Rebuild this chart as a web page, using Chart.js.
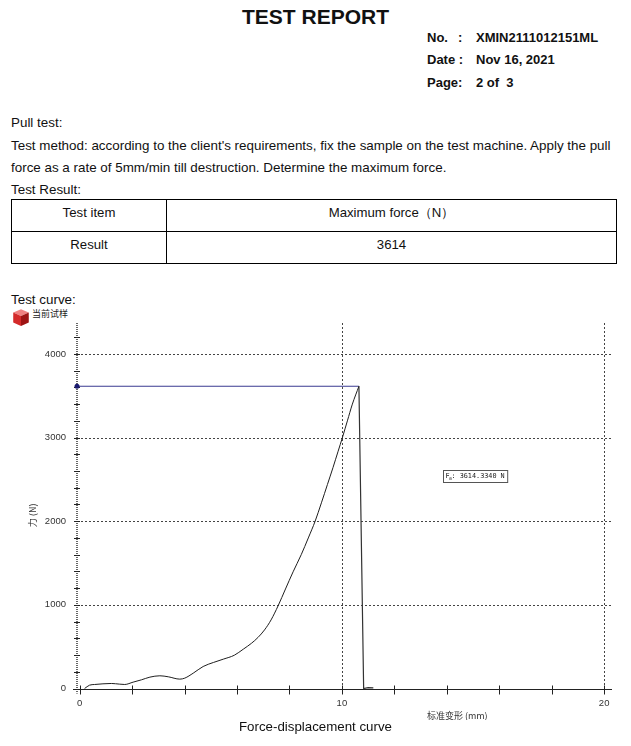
<!DOCTYPE html>
<html>
<head>
<meta charset="utf-8">
<script src="https://cdn.jsdelivr.net/npm/chart.js@4.4.0/dist/chart.umd.min.js"></script>
<style>
  body { margin: 0; background: #fff; font-family: "Liberation Sans", Arial, sans-serif; color: #111; }
  .page { position: relative; width: 631px; height: 746px; overflow: hidden; }
  .abs { position: absolute; white-space: nowrap; line-height: 16px; }
  .title { left: 0; width: 631px; text-align: center; top: 5px; font-size: 21px; font-weight: bold; line-height: 24px; }
  .hdr { font-size: 13px; font-weight: bold; }
  .txt { font-size: 13.4px; left: 11px; }
  table { position: absolute; left: 11px; top: 199px; width: 606px; border-collapse: collapse; font-size: 13.2px; }
  td { border: 1.3px solid #000; text-align: center; height: 26px; padding: 0 0 5px 0; line-height: 16px; }
  #chartBox { position: absolute; left: 0; top: 318px; width: 631px; height: 402px; }
  .cn { font-family: "Noto Sans CJK SC", sans-serif; font-size: 9px; color: #222; }
</style>
</head>
<body>
<div class="page">
  <div class="abs title">TEST REPORT</div>
  <div class="abs hdr" style="left:427px;top:30px">No.</div>
  <div class="abs hdr" style="left:458px;top:30px">:</div>
  <div class="abs hdr" style="left:476px;top:30px">XMIN2111012151ML</div>
  <div class="abs hdr" style="left:427px;top:52px">Date :</div>
  <div class="abs hdr" style="left:476px;top:52px">Nov 16, 2021</div>
  <div class="abs hdr" style="left:427px;top:75px">Page:</div>
  <div class="abs hdr" style="left:476px;top:75px">2 of&nbsp; 3</div>

  <div class="abs txt" style="top:115px">Pull test:</div>
  <div class="abs txt" style="top:138px">Test method: according to the client's requirements, fix the sample on the test machine. Apply the pull</div>
  <div class="abs txt" style="top:160px">force as a rate of 5mm/min till destruction. Determine the maximum force.</div>
  <div class="abs txt" style="top:182px">Test Result:</div>

  <table>
    <tr><td style="width:154px">Test item</td><td>Maximum force（N）</td></tr>
    <tr><td>Result</td><td>3614</td></tr>
  </table>

  <div class="abs txt" style="top:292px">Test curve:</div>
  <svg class="abs" style="left:11px;top:307px" width="20" height="20" viewBox="0 0 18 18">
    <polygon points="2,5 9,2 16,5 9,8" fill="#f08080"/>
    <polygon points="2,5 9,8 9,17 2,14" fill="#d42a2a"/>
    <polygon points="9,8 16,5 16,14 9,17" fill="#9e1414"/>
  </svg>
  <div class="abs cn" style="left:32px;top:306px">当前试样</div>

  <div id="chartBox"><canvas id="curve"></canvas></div>

  <div class="abs" style="left:0;width:631px;text-align:center;top:719px;font-size:13.3px">Force-displacement curve</div>
</div>

<script>
// Force-displacement data
const disp = [0.19, 0.38, 0.57, 0.89, 1.21, 1.53, 1.72, 2.04, 2.36, 2.68, 3.06, 3.38, 3.82, 4.01, 4.33, 4.71,
  5.10, 5.48, 5.90, 6.24, 6.55, 6.80, 7.05, 7.30, 7.57, 7.85, 8.14, 8.45, 8.72, 8.98, 9.22, 9.45, 9.66,
  9.85, 10.03, 10.21, 10.40, 10.65];
const force = [0, 40, 48, 56, 60, 52, 48, 76, 104, 136, 152, 140, 112, 124, 183, 263,
  311, 351, 398, 470, 540, 610, 700, 820, 990, 1190, 1395, 1600, 1800, 2000, 2220, 2440, 2640,
  2830, 3010, 3200, 3400, 3614];

// after break: drop to zero and small residue
const dropDisp = [10.65, 10.83, 11.0, 11.2];
const dropForce = [3614, 0, 10, 8];

// max force marker line
const peakLineX = [-0.1, 10.65];
const peakLineY = [3614, 3614];
const peakLabel = "3614.3340 N";
const peakLabelPos = [13.85, 2535];

const xTicks = [0, 2, 4, 6, 8, 10, 12, 14, 16, 18, 20];
const xLabels = [0, 10, 20];
const yTicks = [0, 200, 400, 600, 800, 1000, 1200, 1400, 1600, 1800, 2000, 2200, 2400, 2600, 2800, 3000, 3200, 3400, 3600, 3800, 4000, 4200];
const yLabels = [0, 1000, 2000, 3000, 4000];
const xGrid = [10, 20];
const yGrid = [1000, 2000, 3000, 4000];

const xTitle = "标准变形 (mm)";
const yTitle = "力 (N)";

const toPts = (xs, ys) => xs.map((x, i) => ({ x: x, y: ys[i] }));

// axes, dotted grids, crossing ticks, titles and the Fm box
const decor = {
  id: "decor",
  beforeDatasetsDraw(chart) {
    const { ctx, chartArea: a, scales: { x, y } } = chart;
    ctx.save();
    ctx.strokeStyle = "#444";
    ctx.lineWidth = 1;
    ctx.setLineDash([2, 2]);
    yGrid.forEach(v => {
      const py = Math.round(y.getPixelForValue(v)) + 0.5;
      ctx.beginPath(); ctx.moveTo(a.left, py); ctx.lineTo(a.right, py); ctx.stroke();
    });
    xGrid.forEach(v => {
      const px = Math.round(x.getPixelForValue(v)) + 0.5;
      ctx.beginPath(); ctx.moveTo(px, a.top); ctx.lineTo(px, a.bottom); ctx.stroke();
    });
    // y axis: grey dotted
    ctx.setLineDash([1, 1]);
    ctx.strokeStyle = "#666";
    ctx.lineWidth = 2;
    ctx.beginPath(); ctx.moveTo(a.left, a.top); ctx.lineTo(a.left, a.bottom + 5); ctx.stroke();
    // x axis: solid
    ctx.setLineDash([]);
    ctx.strokeStyle = "#222";
    ctx.lineWidth = 1;
    const by = Math.round(a.bottom) + 0.5;
    ctx.beginPath(); ctx.moveTo(a.left - 4, by); ctx.lineTo(a.right, by); ctx.stroke();
    // ticks across the axes
    xTicks.forEach(v => {
      const px = Math.round(x.getPixelForValue(v)) + 0.5;
      ctx.beginPath(); ctx.moveTo(px, by - 4); ctx.lineTo(px, by + 5); ctx.stroke();
    });
    yTicks.forEach(v => {
      const py = Math.round(y.getPixelForValue(v)) + 0.5;
      ctx.beginPath(); ctx.moveTo(a.left - 3, py); ctx.lineTo(a.left + 3, py); ctx.stroke();
    });
    ctx.restore();
  },
  afterDraw(chart) {
    const { ctx, scales: { x, y } } = chart;
    ctx.save();
    ctx.fillStyle = "#333";
    ctx.font = '9px "Noto Sans CJK SC", sans-serif';
    ctx.textAlign = "center";
    ctx.textBaseline = "middle";
    ctx.fillText(xTitle, x.getPixelForValue(14.4), 398);
    ctx.translate(33, y.getPixelForValue(2070));
    ctx.rotate(-Math.PI / 2);
    ctx.fillText(yTitle, 0, 0);
    ctx.restore();

    // Fm value box
    ctx.save();
    const bx = Math.round(x.getPixelForValue(peakLabelPos[0])) + 0.5;
    const bcy = y.getPixelForValue(peakLabelPos[1]);
    const by = Math.round(bcy - 6) + 0.5;
    ctx.font = '6.8px "DejaVu Sans Mono", monospace';
    const restW = ctx.measureText(": " + peakLabel).width;
    const w = 8 + restW + 3;
    ctx.fillStyle = "#fff";
    ctx.fillRect(bx, by, w, 12);
    ctx.strokeStyle = "#555";
    ctx.lineWidth = 1;
    ctx.strokeRect(bx, by, w, 12);
    ctx.fillStyle = "#222";
    ctx.textBaseline = "middle";
    ctx.fillText("F", bx + 2, bcy);
    ctx.font = '4.5px "DejaVu Sans Mono", monospace';
    ctx.fillText("m", bx + 5.8, bcy + 2.3);
    ctx.font = '6.8px "DejaVu Sans Mono", monospace';
    ctx.fillText(": " + peakLabel, bx + 8, bcy);
    ctx.restore();
  }
};

new Chart(document.getElementById("curve"), {
  type: "line",
  data: {
    datasets: [
      {
        data: toPts(disp, force),
        borderColor: "#1e1e1e",
        borderWidth: 1,
        pointRadius: 0,
        cubicInterpolationMode: "monotone"
      },
      {
        data: toPts(dropDisp, dropForce),
        borderColor: "#333",
        borderWidth: 1.2,
        pointRadius: 0,
        tension: 0
      },
      {
        data: toPts(peakLineX, peakLineY),
        borderColor: "#3a3a90",
        borderWidth: 1.2,
        pointRadius: [2.5, 0],
        pointBackgroundColor: "#1a1a70",
        pointBorderWidth: 0,
        tension: 0
      }
    ]
  },
  options: {
    responsive: true,
    maintainAspectRatio: false,
    animation: false,
    events: [],
    clip: false,
    layout: { padding: { top: 5, right: 19, left: 0, bottom: 0 } },
    plugins: { legend: { display: false }, tooltip: { enabled: false } },
    scales: {
      x: {
        type: "linear",
        min: -0.1,
        max: 20.3,
        afterBuildTicks: s => { s.ticks = xLabels.map(v => ({ value: v })); },
        afterFit: s => { s.height = 31.5; s.paddingLeft = 0; s.paddingRight = 0; },
        grid: { display: false },
        border: { display: false },
        ticks: { padding: 1, autoSkip: false, maxRotation: 0, color: "#333", font: { family: "Liberation Sans", size: 9.5 },
          callback: v => String(v) }
      },
      y: {
        min: 0,
        max: 4370,
        afterBuildTicks: s => { s.ticks = yLabels.map(v => ({ value: v })); },
        afterFit: s => { s.width = 77; s.paddingTop = 0; s.paddingBottom = 0; },
        grid: { display: false },
        border: { display: false },
        ticks: { padding: 3, autoSkip: false, color: "#333", font: { family: "Liberation Sans", size: 9.5 },
          callback: v => String(v) }
      }
    }
  },
  plugins: [decor]
});
</script>
</body>
</html>
